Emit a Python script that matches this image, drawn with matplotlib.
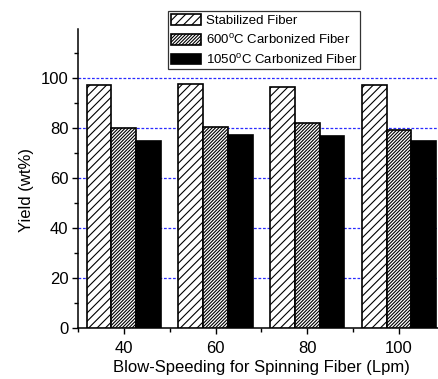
import matplotlib
matplotlib.use("Agg")
import matplotlib.pyplot as plt
import numpy as np
from matplotlib.ticker import MultipleLocator, FixedLocator

plt.rcParams['font.family'] = ['Liberation Sans', 'DejaVu Sans']
plt.rcParams['hatch.linewidth'] = 0.8

categories = ["40", "60", "80", "100"]
series_names = ["Stabilized Fiber", "600$^\\mathregular{o}$C Carbonized Fiber", "1050$^\\mathregular{o}$C Carbonized Fiber"]
stabilized = [97.1, 97.4, 96.3, 97.0]
carb600 = [79.8, 80.3, 81.8, 79.1]
carb1050 = [74.9, 77.0, 76.7, 74.7]

fig = plt.figure(figsize=(4.39, 3.79), dpi=100)
ax = fig.add_axes([78/439, (379-328.3)/379, 366.8/439, 299.3/379])

x = np.arange(len(categories))
w = 0.27
styles = [dict(facecolor='white', hatch='////'),
          dict(facecolor='white', hatch='//////////'),
          dict(facecolor='black', hatch=None)]
handles = []
for i, (vals, st, name) in enumerate(zip([stabilized, carb600, carb1050], styles, series_names)):
    b = ax.bar(x + (i - 1) * w, vals, width=w, edgecolor='black', linewidth=1.2,
               label=name, zorder=3, **st)
    handles.append(b)

ax.set_xlim(-0.5, 3.5)
ax.set_ylim(0, 119.5)
ax.yaxis.set_major_locator(FixedLocator([0, 20, 40, 60, 80, 100]))
ax.yaxis.set_minor_locator(MultipleLocator(10))
ax.set_xticks(x)
ax.set_xticklabels(categories)
ax.xaxis.set_minor_locator(FixedLocator([-0.5, 0.5, 1.5, 2.5]))

for v in [20, 40, 60, 80, 100]:
    ax.axhline(v, color='#2a2aff', lw=0.9, dashes=(2.2, 1.4), zorder=1)

for s in ['top', 'right']:
    ax.spines[s].set_visible(False)
for s in ['left', 'bottom']:
    ax.spines[s].set_linewidth(1.1)

ax.tick_params(axis='y', which='major', direction='out', length=4, width=1.0,
               labelsize=12, pad=3)
ax.tick_params(axis='x', which='major', direction='out', length=4, width=1.0,
               labelsize=12, pad=5)
ax.tick_params(axis='both', which='minor', direction='out', length=3, width=1.0)

ax.set_xlabel("Blow-Speeding for Spinning Fiber (Lpm)", fontsize=12, labelpad=3)
ax.set_ylabel("Yield (wt%)", fontsize=12)
ax.yaxis.set_label_coords(-0.12, 0.462)

leg = fig.legend(handles=handles, loc='upper left',
                 bbox_to_anchor=(168/439, 1 - 11/379), fontsize=9.5,
                 frameon=True, fancybox=False, edgecolor='black',
                 borderpad=0.2, labelspacing=0.45, handlelength=2.3,
                 handleheight=0.9, handletextpad=0.35, borderaxespad=0)
leg.get_frame().set_linewidth(0.9)

fig.savefig("out.png", dpi=100)
